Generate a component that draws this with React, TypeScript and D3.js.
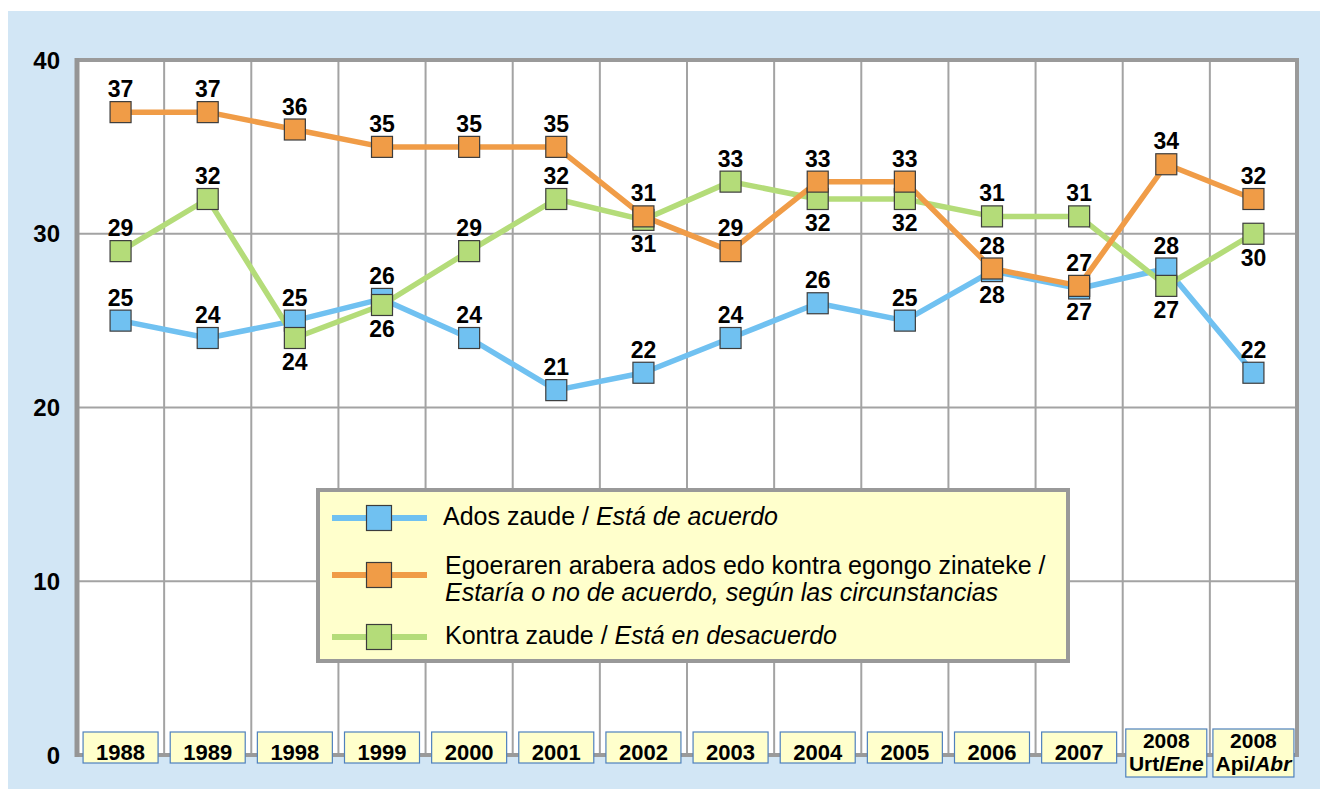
import React from "react";
import * as d3 from "d3";

const categories = ["1988", "1989", "1998", "1999", "2000", "2001", "2002", "2003", "2004", "2005", "2006", "2007", "2008U", "2008A"];
const tickYear = ["1988", "1989", "1998", "1999", "2000", "2001", "2002", "2003", "2004", "2005", "2006", "2007", "2008", "2008"];
const tickSubEu = ["", "", "", "", "", "", "", "", "", "", "", "", "Urt/", "Api/"];
const tickSubEs = ["", "", "", "", "", "", "", "", "", "", "", "", "Ene", "Abr"];

const adosValues = [25, 24, 25, 26.25, 24, 21, 22, 24, 26, 25, 27.85, 26.85, 28, 22];
const egoeraValues = [37, 37, 36, 35, 35, 35, 31, 29, 33, 33, 28, 27, 34, 32];
const kontraValues = [29, 32, 24, 25.9, 29, 32, 30.8, 33, 32, 32, 31, 31, 27, 30];

const adosLabelPos = ["a", "a", "a", "a", "a", "a", "a", "a", "a", "a", "b", "b", "a", "a"];
const egoeraLabelPos = ["a", "a", "a", "a", "a", "a", "a", "a", "a", "a", "a", "a", "a", "a"];
const kontraLabelPos = ["a", "a", "b", "b", "a", "a", "b", "a", "b", "b", "a", "a", "b", "b"];

const yTicks = [0, 10, 20, 30, 40];

const seriesNames = ["ados", "kontra", "egoera"];

const COLORS: Record<string, string> = {
  ados: "#70c1f1",
  egoera: "#f09c47",
  kontra: "#b4dc79",
};

export default function App() {
  const W = 1328, H = 789;
  const left = 77, right = 1297, top = 60, bottom = 755;
  const x = d3.scaleBand<string>().domain(categories).range([left, right]);
  const bw = x.bandwidth();
  const cx = (c: string) => (x(c) as number) + bw / 2;
  const y = d3.scaleLinear().domain([0, 40]).range([bottom, top]);

  const dataMap: Record<string, { vals: number[]; pos: string[] }> = {
    ados: { vals: adosValues, pos: adosLabelPos },
    egoera: { vals: egoeraValues, pos: egoeraLabelPos },
    kontra: { vals: kontraValues, pos: kontraLabelPos },
  };

  const line = d3.line<[number, number]>().x((d) => d[0]).y((d) => d[1]);
  const ms = 21;
  const font = "'Liberation Sans', Arial, sans-serif";

  return (
    <svg width={W} height={H} style={{ position: "absolute", left: 0, top: 0 }} fontFamily={font}>
      <rect x={8} y={11} width={1312} height={790} fill="#d2e6f5" />
      <rect x={left} y={top} width={right - left} height={bottom - top} fill="#ffffff" />
      {categories.slice(1).map((c) => (
        <line key={c} x1={x(c)} x2={x(c)} y1={top} y2={bottom} stroke="#a3a3a3" strokeWidth={2} />
      ))}
      {yTicks.filter((t) => t > 0 && t < 40).map((t) => (
        <line key={t} x1={left} x2={right} y1={y(t)} y2={y(t)} stroke="#a3a3a3" strokeWidth={2} />
      ))}
      <rect x={left} y={top} width={right - left} height={bottom - top} fill="none" stroke="#9a9a9a" strokeWidth={4} />
      <line x1={left} x2={left} y1={top - 2} y2={bottom + 2} stroke="#959595" strokeWidth={5} />
      {yTicks.map((t) => (
        <text key={t} x={60} y={y(t)} dy="0.36em" textAnchor="end" fontSize={24} fontWeight="bold" fill="#000">
          {t}
        </text>
      ))}
      {seriesNames.map((s) => (
        <path
          key={s}
          d={line(categories.map((c, i) => [cx(c), y(dataMap[s].vals[i])])) || ""}
          fill="none"
          stroke={COLORS[s]}
          strokeWidth={5.5}
          strokeLinejoin="round"
        />
      ))}
      {seriesNames.map((s) => (
        <g key={s}>
          {categories.map((c, i) => (
            <rect
              key={c}
              x={cx(c) - ms / 2}
              y={y(dataMap[s].vals[i]) - ms / 2}
              width={ms}
              height={ms}
              fill={COLORS[s]}
              stroke="#3c3c3c"
              strokeWidth={1.2}
            />
          ))}
        </g>
      ))}
      {seriesNames.map((s) => (
        <g key={s}>
          {categories.map((c, i) => {
            const v = dataMap[s].vals[i];
            const above = dataMap[s].pos[i] === "a";
            return (
              <text
                key={c}
                x={cx(c)}
                y={y(v) + (above ? -15 : 32)}
                textAnchor="middle"
                fontSize={23}
                fontWeight="bold"
                fill="#000"
              >
                {Math.round(v)}
              </text>
            );
          })}
        </g>
      ))}
      {categories.map((c, i) => {
        const two = tickSubEu[i] !== "";
        const w = two ? 81 : 75;
        const by = two ? 729 : 732;
        const bh = two ? 48 : 31;
        return (
          <g key={c}>
            <rect x={cx(c) - w / 2} y={by} width={w} height={bh} fill="#ffffcc" stroke="#4f81bd" strokeWidth={1.2} />
            {two ? (
              <>
                <text x={cx(c)} y={748} textAnchor="middle" fontSize={21} fontWeight="bold">
                  {tickYear[i]}
                </text>
                <text x={cx(c)} y={771} textAnchor="middle" fontSize={21} fontWeight="bold">
                  {tickSubEu[i]}
                  <tspan fontStyle="italic">{tickSubEs[i]}</tspan>
                </text>
              </>
            ) : (
              <text x={cx(c)} y={760} textAnchor="middle" fontSize={22} fontWeight="bold">
                {tickYear[i]}
              </text>
            )}
          </g>
        );
      })}
      <rect x={318} y={490} width={750} height={171} fill="#ffffcc" stroke="#999999" strokeWidth={4} />
      {[
        { s: "ados", yc: 518 },
        { s: "egoera", yc: 575 },
        { s: "kontra", yc: 637 },
      ].map(({ s, yc }) => (
        <g key={s}>
          <line x1={332} x2={427} y1={yc} y2={yc} stroke={COLORS[s]} strokeWidth={6} />
          <rect x={379 - 12.5} y={yc - 12.5} width={25} height={25} fill={COLORS[s]} stroke="#3c3c3c" strokeWidth={1.2} />
        </g>
      ))}
      <text x={443} y={525} fontSize={25} fill="#000">
        Ados zaude / <tspan fontStyle="italic">Está de acuerdo</tspan>
      </text>
      <text x={445} y={574} fontSize={25} fill="#000">
        Egoeraren arabera ados edo kontra egongo zinateke /
      </text>
      <text x={445} y={601} fontSize={25} fill="#000" fontStyle="italic">
        Estaría o no de acuerdo, según las circunstancias
      </text>
      <text x={445} y={644} fontSize={25} fill="#000">
        Kontra zaude / <tspan fontStyle="italic">Está en desacuerdo</tspan>
      </text>
    </svg>
  );
}
